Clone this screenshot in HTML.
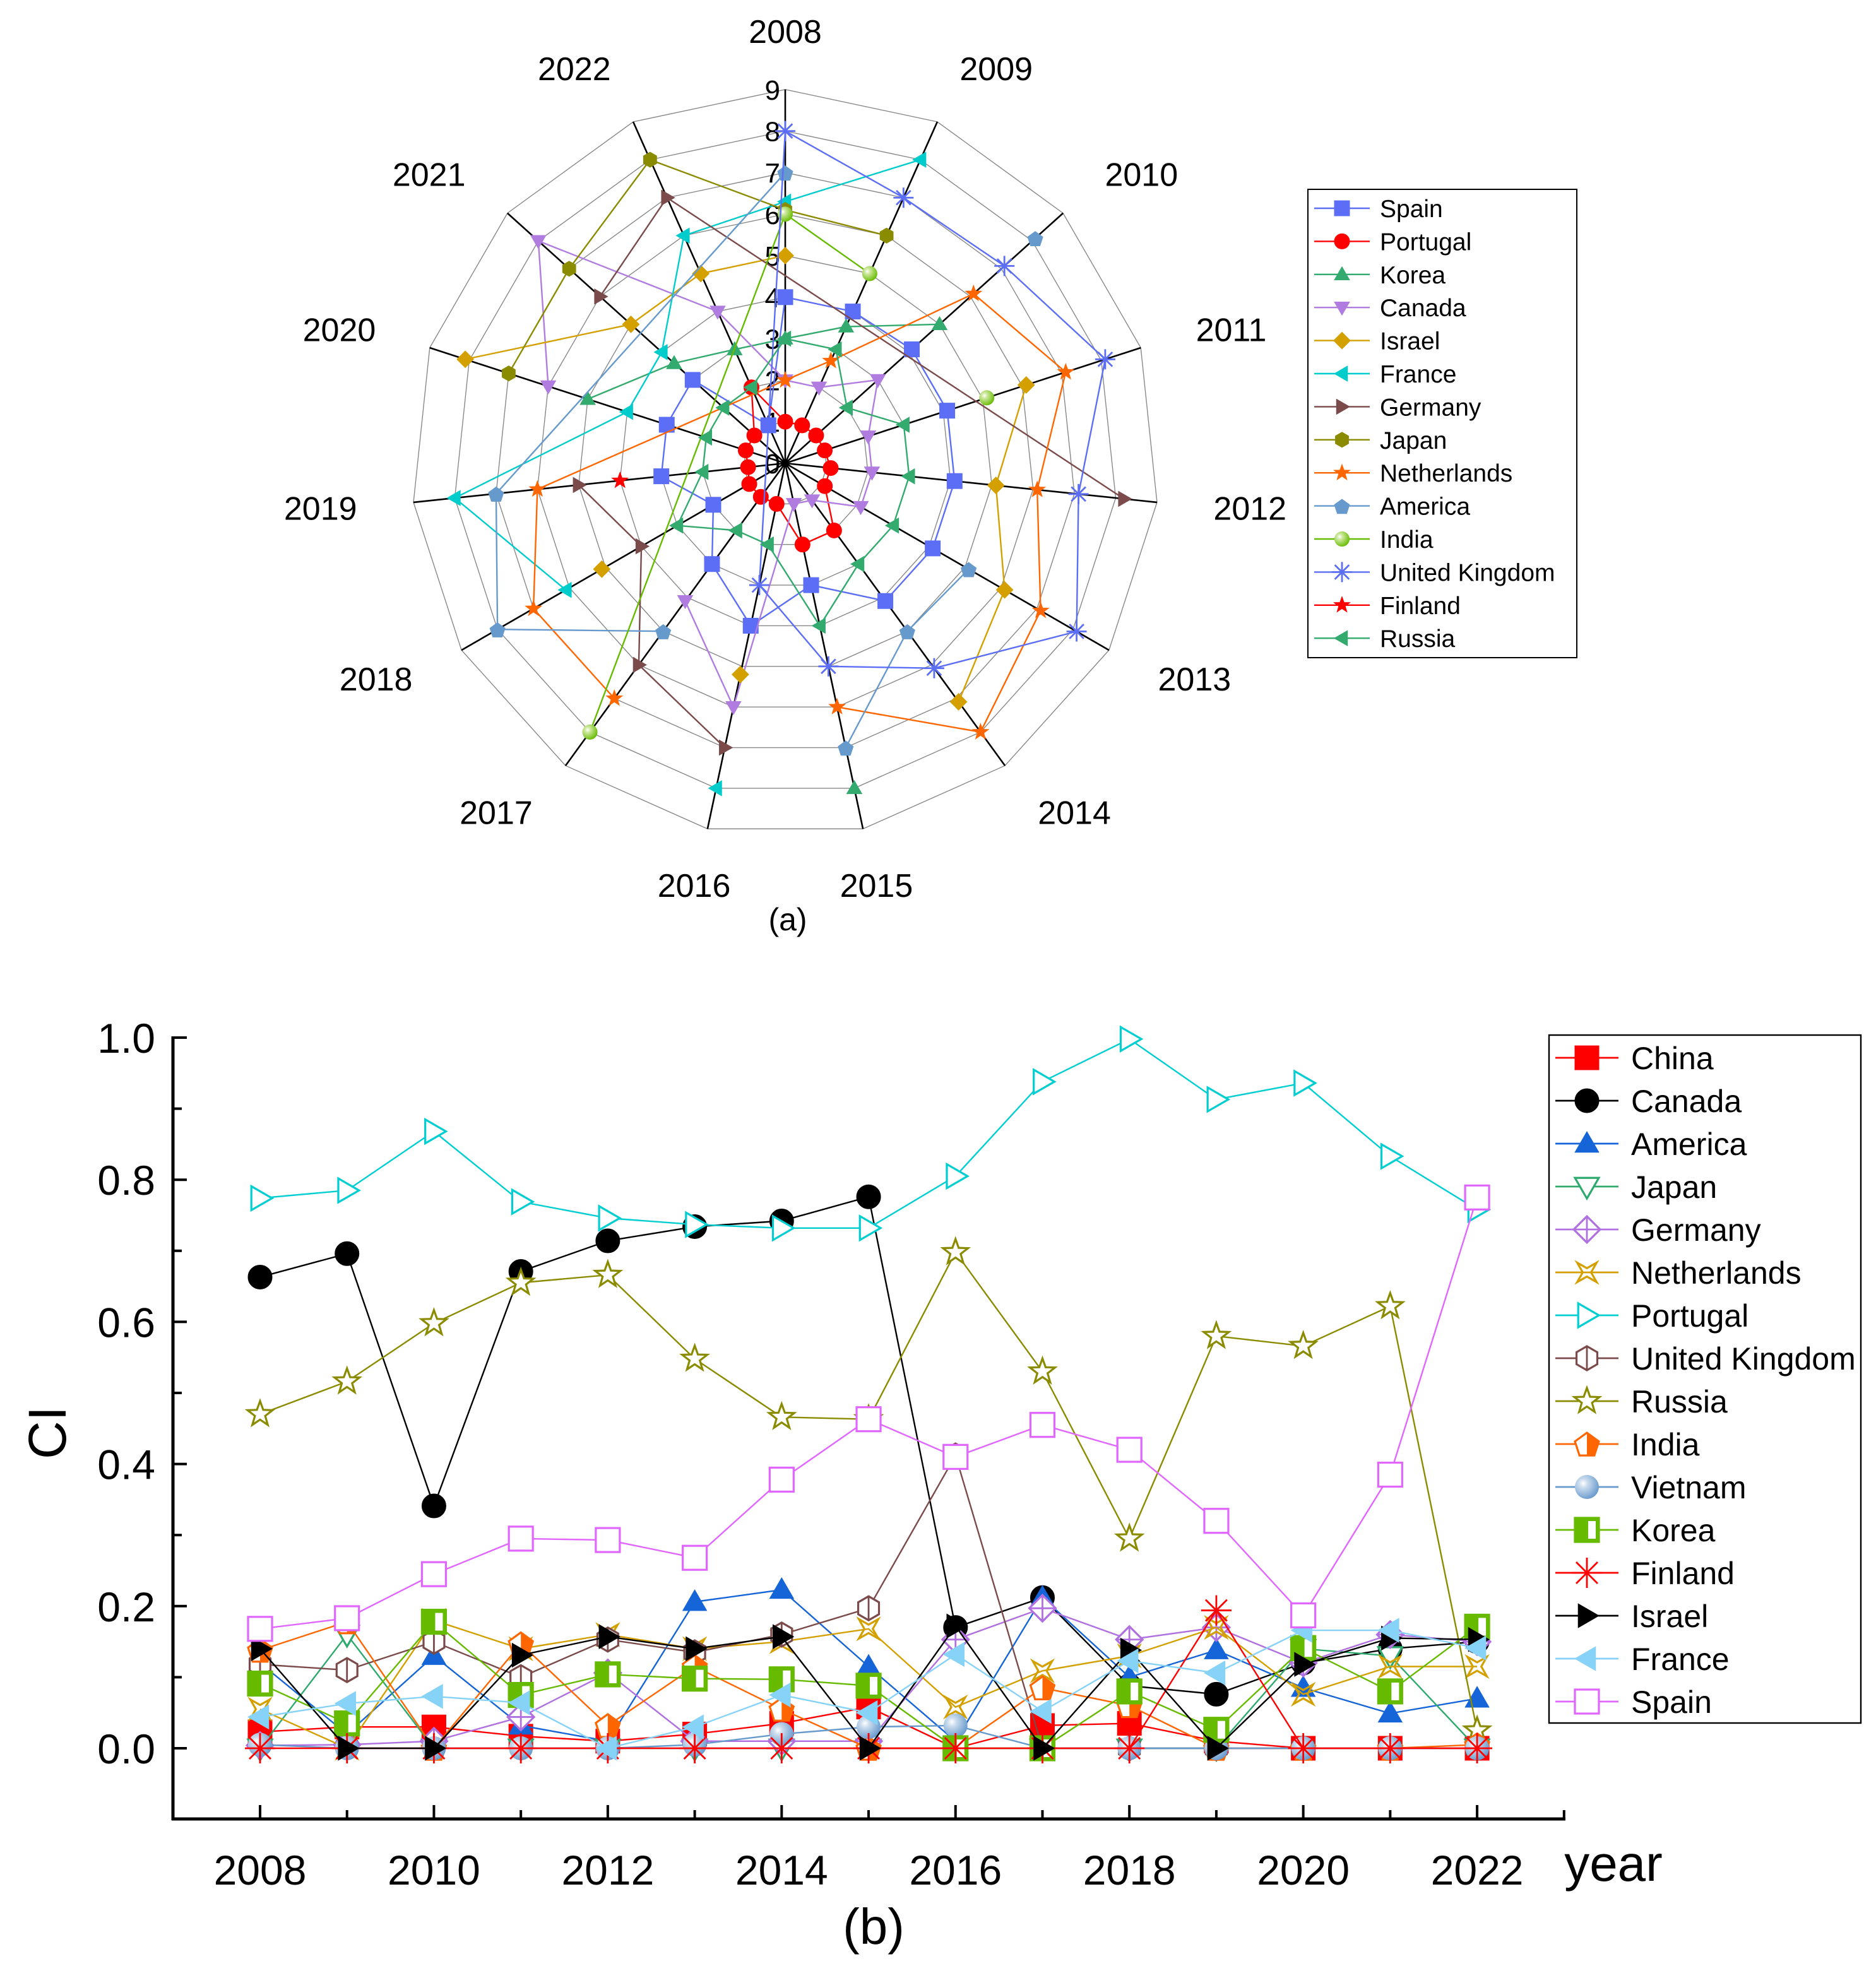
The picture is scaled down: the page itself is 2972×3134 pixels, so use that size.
<!DOCTYPE html>
<html><head><meta charset="utf-8"><style>
html,body{margin:0;padding:0;background:#fff}
svg{display:block;font-family:"Liberation Sans",Arial,sans-serif}
</style></head><body>
<svg id="fig" width="2972" height="3134" viewBox="0 0 1486 1567" xmlns="http://www.w3.org/2000/svg">
<defs>
<radialGradient id="ballG" cx="0.35" cy="0.35" r="0.7"><stop offset="0" stop-color="#fff"/><stop offset="0.25" stop-color="#cde"/><stop offset="1" stop-color="#6699cc"/></radialGradient>
<radialGradient id="ballI" cx="0.35" cy="0.35" r="0.7"><stop offset="0" stop-color="#fff"/><stop offset="0.25" stop-color="#cfe9a0"/><stop offset="1" stop-color="#66bb00"/></radialGradient>
</defs>
<g id="radar"></g>
<g id="lineb"></g>
</svg>
<script>
// ---------- Radar data (a) ----------
const radarYears = ["2008","2009","2010","2011","2012","2013","2014","2015","2016","2017","2018","2019","2020","2021","2022"];
const radarTicks = [0,1,2,3,4,5,6,7,8,9];
const rSpain = [4,4,4.1,4.1,4.1,4.1,4.1,3,4,3,2,3,3,3,1];
const rPortugal = [1,1,1,1,1.1,1.1,2,2,1,1,1,0.9,1,1,2];
const rKorea = [3,3.6,5,null,null,null,null,8,null,null,null,null,5,3.6,3];
const rCanada = [2,2,3,2.1,2.1,2.1,1.1,1,6,4.1,null,null,6,8,4];
const rIsrael = [5,null,null,6.1,5.1,6.1,7.1,null,5.2,null,5.1,null,8.1,5,5];
const rFrance = [6.3,8,null,null,null,null,null,null,8,null,6.1,8,4,4,6];
const rGermany = [null,null,null,null,8.2,null,null,null,7,6,4,5,null,6,7];
const rJapan = [6.1,6,null,null,null,null,null,null,null,null,null,null,7,7,8];
const rNetherlands = [2,2.7,6.1,7.1,6.1,7.1,8,6,null,7,7,6,null,null,null];
const rAmerica = [7,null,8.1,null,null,5.1,5,7,null,5,8,7,null,null,null];
const rIndia = [6,5,null,5.1,null,null,null,null,null,8,null,null,null,null,null];
const rUK = [8,7,7.1,8.1,7.1,8.1,6.1,5,3,null,null,null,null,null,null];
const rFinland = [null,null,null,null,null,null,null,null,null,null,null,4,null,null,null];
const rRussia = [3,3,2,3,3,3,3,4,2,2,3,2,2,2,2];

// ---------- CI data (b) ----------
const ciYears = [2008,2009,2010,2011,2012,2013,2014,2015,2016,2017,2018,2019,2020,2021,2022];
const ciYTicks = ["0.0","0.2","0.4","0.6","0.8","1.0"];
const ciXTicks = [2008,2010,2012,2014,2016,2018,2020,2022];
const bChina = [0.023,0.03,0.03,0.017,0.01,0.02,0.035,0.058,0,0.032,0.035,0.01,0,0,0];
const bCanada = [0.663,0.696,0.341,0.671,0.714,0.734,0.742,0.776,0.17,0.212,0.088,0.076,0.12,0.14,0.15];
const bAmerica = [0.12,0.02,0.13,0.032,0.01,0.206,0.223,0.115,0.01,0.212,0.1,0.138,0.085,0.049,0.07];
const bJapan = [0,0.16,0,0,0,0,0,0,0,0,0,0,0.14,0.13,0];
const bGermany = [0.004,0.005,0.01,0.044,0.106,0.01,0.01,0.01,0.153,0.197,0.153,0.17,0.12,0.16,0.15];
const bNetherlands = [0.055,0,0.18,0.14,0.16,0.14,0.15,0.168,0.058,0.109,0.13,0.17,0.076,0.115,0.115];
const bPortugal = [0.774,0.785,0.868,0.769,0.746,0.737,0.732,0.732,0.805,0.938,0.998,0.913,0.936,0.833,0.758];
const bUK = [0.118,0.11,0.15,0.1,0.153,0.135,0.16,0.197,0.412,0,0,0,0,0,0];
const bRussia = [0.47,0.516,0.598,0.655,0.666,0.548,0.466,0.463,0.698,0.53,0.295,0.58,0.566,0.622,0.025];
const bIndia = [0.138,0.178,0,0.147,0.032,0.115,0.055,0,0,0.085,0.06,0,0,0,0.005];
const bVietnam = [0.005,0,0,0,0,0.005,0.02,0.03,0.032,0,0,0,0,0,0];
const bKorea = [0.091,0.035,0.178,0.075,0.104,0.098,0.097,0.088,0,0,0.08,0.026,0.141,0.08,0.171];
const bFinland = [0,0,0,0,0,0,0,0,0,0,0,0.194,0,0,0];
const bIsrael = [0.14,0,0,0.131,0.157,0.14,0.157,0,0.172,0,0.138,0,0.118,0.155,0.153];
const bFrance = [0.044,0.063,0.073,0.064,0,0.03,0.075,0.05,0.132,0.052,0.123,0.106,0.166,0.166,0.141];
const bSpain = [0.168,0.183,0.245,0.295,0.293,0.268,0.378,0.463,0.41,0.455,0.42,0.32,0.187,0.385,0.775];

const NS = "http://www.w3.org/2000/svg";
function mk(tag, attrs, parent){const e=document.createElementNS(NS,tag);for(const k in attrs)e.setAttribute(k,attrs[k]);if(parent)parent.appendChild(e);return e;}
function poly(n,r,x,y,rot){let p=[];for(let i=0;i<n;i++){const a=rot+i*2*Math.PI/n;p.push((x+r*Math.sin(a)).toFixed(2)+","+(y-r*Math.cos(a)).toFixed(2));}return p.join(" ");}
function starPts(n,r1,r2,x,y){let p=[];for(let i=0;i<2*n;i++){const a=i*Math.PI/n;const r=i%2?r2:r1;p.push((x+r*Math.sin(a)).toFixed(2)+","+(y-r*Math.cos(a)).toFixed(2));}return p.join(" ");}
function marker(g,type,x,y,s,c,open){
  const f=open?"#fff":c;
  const st={fill:f,stroke:c,"stroke-width":open?1.6:0.5};
  const h=s/2;
  switch(type){
    case "square": return mk("rect",Object.assign({x:x-h,y:y-h,width:s,height:s},st),g);
    case "circle": return mk("circle",Object.assign({cx:x,cy:y,r:h},st),g);
    case "ball": return mk("circle",{cx:x,cy:y,r:h,fill:c==="#66bb00"?"url(#ballI)":"url(#ballG)"},g);
    case "triUp": return mk("polygon",Object.assign({points:poly(3,h*1.15,x,y+h*0.15,0)},st),g);
    case "triDown": return mk("polygon",Object.assign({points:poly(3,h*1.15,x,y-h*0.15,Math.PI)},st),g);
    case "triRight": return mk("polygon",Object.assign({points:poly(3,h*1.15,x-h*0.15,y,Math.PI/2)},st),g);
    case "triLeft": return mk("polygon",Object.assign({points:poly(3,h*1.15,x+h*0.15,y,-Math.PI/2)},st),g);
    case "diamond": {const e=mk("polygon",Object.assign({points:poly(4,h*1.1,x,y,0)},st),g);
      if(open){mk("line",{x1:x,y1:y-h*1.1,x2:x,y2:y+h*1.1,stroke:c,"stroke-width":1.4},g);mk("line",{x1:x-h*1.1,y1:y,x2:x+h*1.1,y2:y,stroke:c,"stroke-width":1.4},g);}return e;}
    case "hexagon": {const e=mk("polygon",Object.assign({points:poly(6,h,x,y,0)},st),g);
      if(open)mk("line",{x1:x,y1:y-h,x2:x,y2:y+h,stroke:c,"stroke-width":1.4},g);return e;}
    case "pentagon": return mk("polygon",Object.assign({points:poly(5,h*1.05,x,y+1,0)},st),g);
    case "halfPent": {mk("polygon",{points:poly(5,h*1.05,x,y+1,0),fill:"#fff",stroke:c,"stroke-width":1.6},g);
      return mk("polygon",{points:`${x},${y-h*1.05+1} ${x+h},${y-h*0.3} ${x+h*0.62},${y+h*0.85+1} ${x},${y+h*0.85+1}`,fill:c},g);}
    case "halfSquare": {mk("rect",{x:x-h,y:y-h,width:s,height:s,fill:c,stroke:c,"stroke-width":1.6},g);
      return mk("rect",{x:x+1,y:y-h+2.5,width:h-3.5,height:s-5,fill:"#fff"},g);}
    case "star": return mk("polygon",Object.assign({points:starPts(5,h*1.1,h*0.45,x,y)},st),g);
    case "starOpen": return mk("polygon",{points:starPts(5,h*1.1,h*0.45,x,y),fill:"#fff",stroke:c,"stroke-width":1.6},g);
    case "xstar": return mk("polygon",{points:starPts(4,h*1.15,h*0.35,x,y).split(" ").map(p=>{const [px,py]=p.split(",").map(Number);const dx=px-x,dy=py-y;const a=Math.PI/4;return (x+dx*Math.cos(a)-dy*Math.sin(a)).toFixed(2)+","+(y+dx*Math.sin(a)+dy*Math.cos(a)).toFixed(2);}).join(" "),fill:"none",stroke:c,"stroke-width":1.6},g);
    case "asterisk": {const gg=mk("g",{},g);for(let i=0;i<4;i++){const a=i*Math.PI/4;mk("line",{x1:x-h*Math.sin(a),y1:y-h*Math.cos(a),x2:x+h*Math.sin(a),y2:y+h*Math.cos(a),stroke:c,"stroke-width":1.4},gg);}return gg;}
  }
}

// ================= RADAR =================
(function(){
  const g=document.getElementById("radar");
  const cx=622, cy=367, u=32.9, N=radarYears.length;
  const dir=i=>{const a=i*2*Math.PI/N;return [Math.sin(a),-Math.cos(a)];};
  const pt=(i,v)=>{const d=dir(i);return [cx+v*u*d[0], cy+v*u*d[1]];};
  const grid=mk("g",{},g);
  
  
  for(let k=1;k<radarTicks.length;k++){
    const pts=[];for(let i=0;i<N;i++)pts.push(pt(i,radarTicks[k]).join(","));
    mk("polygon",{points:pts.join(" "),fill:"none",stroke:"#888","stroke-width":0.7},grid);
  }
  for(let i=0;i<N;i++){
    const p=pt(i,9);
    const ax=mk("line",{x1:cx,y1:cy,x2:p[0],y2:p[1],stroke:"#000","stroke-width":1.3},g);
    
    
    const d=dir(i), R=342;
    const ex=Math.sign(d[0])*28*Math.max(0,Math.min(1,(Math.abs(d[0])-0.2)/0.2));
    const t=mk("text",{x:cx+R*d[0]+ex,y:cy+R*d[1]+9,"font-size":26,"text-anchor":"middle",fill:"#000"},g);
    t.textContent=radarYears[i];
    
    
  }
  for(let k=0;k<radarTicks.length;k++){
    const t=mk("text",{x:618,y:cy-radarTicks[k]*u+8,"font-size":22,"text-anchor":"end",fill:"#000"},g);
    t.textContent=radarTicks[k];
    
    
  }
  const series=[
    ["Spain",rSpain,"#5b6ef5","square"],["Portugal",rPortugal,"#ff0000","circle"],["Korea",rKorea,"#33aa6e","triUp"],
    ["Canada",rCanada,"#b07ce0","triDown"],["Israel",rIsrael,"#d4a000","diamond"],["France",rFrance,"#00cccc","triLeft"],
    ["Germany",rGermany,"#7b4a4a","triRight"],["Japan",rJapan,"#8b8b00","hexagon"],["Netherlands",rNetherlands,"#ff6600","star"],
    ["America",rAmerica,"#6699cc","pentagon"],["India",rIndia,"#66bb00","ball"],["United Kingdom",rUK,"#5b6ef5","asterisk"],
    ["Finland",rFinland,"#ff0000","star"],["Russia",rRussia,"#33aa6e","triLeft"]];
  series.forEach(([name,vals,c,m])=>{
    const sg=mk("g",{},g);
    
    
    // segments between consecutive non-null values (break at gaps)
    let d="";
    for(let i=0;i<N-1;i++){
      if(vals[i]!==null&&vals[i+1]!==null){const a=pt(i,vals[i]),b=pt(i+1,vals[i+1]);d+=`M${a[0]},${a[1]}L${b[0]},${b[1]}`;}
    }
    // closing segment: last non-null back to first non-null
    const idx=[];vals.forEach((v,i)=>{if(v!==null)idx.push(i);});
    if(idx.length>1){const a=pt(idx[idx.length-1],vals[idx[idx.length-1]]),b=pt(idx[0],vals[idx[0]]);d+=`M${a[0]},${a[1]}L${b[0]},${b[1]}`;}
    if(d) mk("path",{d:d,fill:"none",stroke:c,"stroke-width":1.2},sg);
    vals.forEach((v,i)=>{if(v===null)return;const p=pt(i,v);const e=marker(sg,m,p[0],p[1],m==="asterisk"?16:12,c,false);
      
      });
  });
  const lg=mk("g",{},g);
  
  
  mk("rect",{x:1036,y:150,width:213,height:371,fill:"#fff",stroke:"#000","stroke-width":1},lg);
  series.forEach(([name,vals,c,m],k)=>{
    const y=165+k*26.2;
    const le=mk("g",{},lg);
    
    
    mk("line",{x1:1041,y1:y,x2:1085,y2:y,stroke:c,"stroke-width":1.2},le);
    marker(le,m,1063,y,m==="asterisk"?16:12,c,false);
    const t=mk("text",{x:1093,y:y+7,"font-size":19.5,fill:"#000"},le);t.textContent=name;
  });
  const ta=mk("text",{x:624,y:737,"font-size":25,"text-anchor":"middle"},g);ta.textContent="(a)";
  
  
})();

// ================= LINE CHART (b) =================
(function(){
  const g=document.getElementById("lineb");
  const X=yr=>206+(yr-2008)*68.86;
  const Y=v=>1385-v*563;
  const ax=mk("g",{},g);
  
  
  mk("line",{x1:137,y1:Y(1.0)-1,x2:137,y2:1442,stroke:"#000","stroke-width":2.5},ax);
  mk("line",{x1:136,y1:1441,x2:1240,y2:1441,stroke:"#000","stroke-width":2.5},ax);
  for(let k=0;k<=10;k++){const v=k/10;const len=k%2?7:11;
    mk("line",{x1:137,y1:Y(v),x2:137+len,y2:Y(v),stroke:"#000","stroke-width":2},ax);}
  ciYTicks.forEach(lbl=>{const t=mk("text",{x:123,y:Y(parseFloat(lbl))+12,"font-size":33,"text-anchor":"end"},ax);t.textContent=lbl;
    
    });
  for(let yr=2007;yr<=2023;yr++){const len=yr%2?7:11;
    mk("line",{x1:X(yr),y1:1441,x2:X(yr),y2:1441-len,stroke:"#000","stroke-width":2},ax);}
  ciXTicks.forEach(yr=>{const t=mk("text",{x:X(yr),y:1493,"font-size":33,"text-anchor":"middle"},ax);t.textContent=yr;
    
    });
  const yt=mk("text",{x:52,y:1135,"font-size":42,"text-anchor":"middle",transform:"rotate(-90 52 1135)"},g);yt.textContent="CI";
  
  
  const xt=mk("text",{x:1278,y:1490,"font-size":40,"text-anchor":"middle"},g);xt.textContent="year";
  
  
  const tb=mk("text",{x:692,y:1540,"font-size":40,"text-anchor":"middle"},g);tb.textContent="(b)";
  
  

  const series=[
    ["China",bChina,"#ff0000","square",false],["Canada",bCanada,"#000000","circle",false],["America",bAmerica,"#1565d8","triUp",false],
    ["Japan",bJapan,"#2eaa6e","triDown",true],["Germany",bGermany,"#b070e0","diamond",true],["Netherlands",bNetherlands,"#d4a000","xstar",true],
    ["Portugal",bPortugal,"#00ced1","triRight",true],["United Kingdom",bUK,"#7b4a4a","hexagon",true],["Russia",bRussia,"#8b8b00","starOpen",true],
    ["India",bIndia,"#ff6600","halfPent",false],["Vietnam",bVietnam,"#6699cc","ball",false],["Korea",bKorea,"#66bb00","halfSquare",false],
    ["Finland",bFinland,"#ff0000","asterisk",false],["Israel",bIsrael,"#000000","triRight",false],["France",bFrance,"#87d3f8","triLeft",false],
    ["Spain",bSpain,"#e066ff","square",true]];
  series.forEach(([name,vals,c,m,open])=>{
    const sg=mk("g",{},g);
    
    
    mk("polyline",{points:vals.map((v,i)=>X(ciYears[i])+","+Y(v)).join(" "),fill:"none",stroke:c,"stroke-width":1.2},sg);
    vals.forEach((v,i)=>{const e=marker(sg,m,X(ciYears[i]),Y(v),m==="asterisk"?24:19,c,open);
      
      });
  });
  const lg=mk("g",{},g);
  
  
  mk("rect",{x:1227,y:820,width:247,height:545,fill:"#fff",stroke:"#000","stroke-width":1.2},lg);
  series.forEach(([name,vals,c,m,open],k)=>{
    const y=838+k*34;
    const le=mk("g",{},lg);
    
    
    mk("line",{x1:1232,y1:y,x2:1282,y2:y,stroke:c,"stroke-width":1.4},le);
    marker(le,m,1257,y,m==="asterisk"?24:19,c,open);
    const t=mk("text",{x:1292,y:y+9,"font-size":25,fill:"#000"},le);t.textContent=name;
  });
})();
</script>
</body></html>
